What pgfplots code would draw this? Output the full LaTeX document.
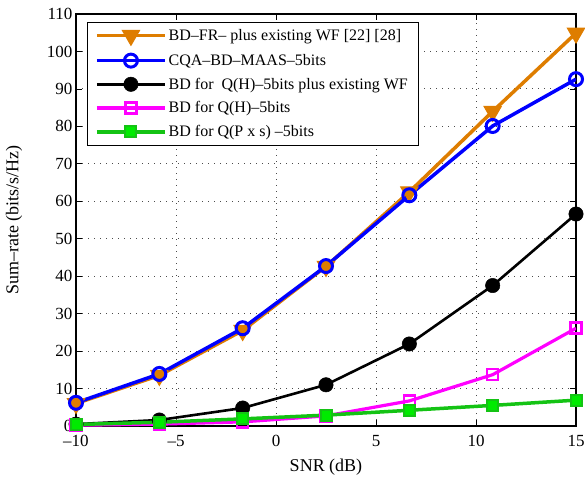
\documentclass[border=0pt]{standalone}
\usepackage{pgfplots}
\pgfplotsset{compat=1.18}
\usepackage{fontspec}
\setmainfont{Liberation Serif}
\definecolor{mOrange}{rgb}{0.87,0.49,0}
\definecolor{mGreen}{RGB}{20,195,20}
\definecolor{mGreenFill}{RGB}{0,235,0}
\definecolor{mMagenta}{RGB}{255,0,255}
\begin{document}
\begin{tikzpicture}[x=1pt,y=1pt]
\useasboundingbox (-76,-55) rectangle (509,426);
\begin{axis}[
  at={(0,0)}, anchor=south west,
  scale only axis, width=500pt, height=412pt,
  xmin=-10, xmax=15, ymin=0, ymax=110,
  xtick={-10,-5,0,5,10,15},
  xticklabels={\textendash10,\textendash5,0,5,10,15},
  ytick={0,10,...,110},
  /pgf/number format/assume math mode=true,
  tick label style={font=\fontsize{17}{17}\selectfont},
  xticklabel style={yshift=-6pt},
  label style={font=\fontsize{18}{18}\selectfont},
  xlabel={SNR (dB)},
  ylabel={Sum\textendash rate (bits/s/Hz)},
  xlabel style={yshift=-5pt},
  every axis y label/.style={at={(axis description cs:-0.124,0.5)}, rotate=90, anchor=center,
    font=\fontsize{18}{18}\selectfont},
  grid=major,
  grid style={dash pattern=on 1pt off 5pt, black!70, line width=0.9pt},
  axis line style={line width=1.2pt},
  major tick length=6pt,
  tick style={line width=0.8pt, black},
  legend style={at={(0.022,0.981)}, anchor=north west, draw=black,
    font=\fontsize{16}{16}\selectfont, row sep=7pt, inner sep=5pt,
    inner xsep=8pt, cells={anchor=west}},
  legend image code/.code={%
    \draw[mark repeat=2,mark phase=2] plot coordinates {(0pt,0pt) (34pt,0pt) (68pt,0pt)};},
]
\addplot[color=mOrange, line width=3.5pt, mark=triangle*, mark size=10pt,
  mark options={rotate=180, fill=mOrange, line width=1pt},
  legend image post style={line width=3.5pt}]
  coordinates {(-10,6.0) (-5.833,13.5) (-1.667,25.5) (2.5,42.6) (6.667,62.5) (10.833,84.0) (15,104.9)};
\addlegendentry{BD\textendash FR\textendash\ plus existing WF [22] [28]}
\addplot[color=blue, line width=3.5pt, mark=o, mark size=6.5pt,
  mark options={line width=3pt},
  legend image post style={line width=3.5pt}]
  coordinates {(-10,6.2) (-5.833,13.9) (-1.667,26.1) (2.5,42.7) (6.667,61.6) (10.833,80.1) (15,92.6)};
\addlegendentry{CQA\textendash BD\textendash MAAS\textendash 5bits}
\addplot[color=black, line width=2.6pt, mark=*, mark size=7.2pt,
  mark options={fill=black, line width=0.5pt},
  legend image post style={line width=3.5pt}]
  coordinates {(-10,0.5) (-5.833,1.6) (-1.667,4.8) (2.5,11.0) (6.667,21.9) (10.833,37.5) (15,56.6)};
\addlegendentry{BD for\ \ Q(H)\textendash 5bits plus existing WF}
\addplot[color=mMagenta, line width=3.2pt, mark=square, mark size=5.5pt,
  mark options={line width=2.6pt},
  legend image post style={line width=3.5pt}]
  coordinates {(-10,0.2) (-5.833,0.5) (-1.667,1.1) (2.5,2.7) (6.667,6.7) (10.833,13.7) (15,26.1)};
\addlegendentry{BD for Q(H)\textendash 5bits}
\addplot[color=mGreen, line width=3.5pt, mark=square*, mark size=5.5pt,
  mark options={fill=mGreenFill, draw=mGreen, line width=2pt},
  legend image post style={line width=3.5pt}]
  coordinates {(-10,0.4) (-5.833,1.0) (-1.667,1.9) (2.5,2.9) (6.667,4.2) (10.833,5.5) (15,6.9)};
\addlegendentry{BD for Q(P x s) \textendash 5bits}
\end{axis}
\end{tikzpicture}
\end{document}
